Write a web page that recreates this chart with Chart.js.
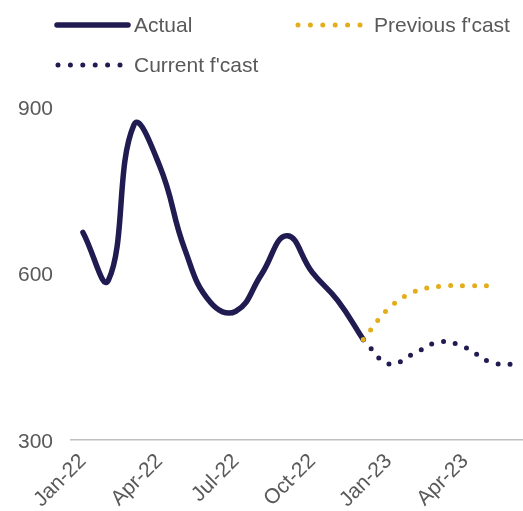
<!DOCTYPE html>
<html>
<head>
<meta charset="utf-8">
<script src="https://cdn.jsdelivr.net/npm/chart.js@4/dist/chart.umd.min.js"></script>
<style>
  html, body { margin: 0; padding: 0; background: #ffffff; }
  #chart { display: block; }
</style>
</head>
<body>
<canvas id="chart" width="523" height="511"></canvas>
<script>
// Monthly categories along the x axis
const months = ['Jan-22','Feb-22','Mar-22','Apr-22','May-22','Jun-22','Jul-22','Aug-22','Sep-22','Oct-22','Nov-22','Dec-22',
                'Jan-23','Feb-23','Mar-23','Apr-23','May-23','Jun-23'];
// Months that carry an axis label
const labelledMonths = ['Jan-22','Apr-22','Jul-22','Oct-22','Jan-23','Apr-23'];
// Value axis ticks
const yTicks = [300, 600, 900];

// Series values
const actual = [674, 588, 868, 795, 643, 548, 532, 598, 668, 602, 551, 481];          // Jan-22 .. Dec-22
const forecastStart = 'Dec-22';
const previousForecast = [481, 537, 567, 577, 578, 578];                                // Dec-22 .. May-23
const currentForecast = [481, 437, 456, 477, 467, 440, 436];                            // Dec-22 .. Jun-23

const NAVY = '#201b50';
const GOLD = '#e3ad1c';
const TEXT = '#595959';
const FONT_FAMILY = '"Liberation Sans", Arial, Helvetica, sans-serif';

const startIdx = months.indexOf(forecastStart);
const toPoints = (vals, offset) => vals.map((v, i) => ({ x: offset + i, y: v }));

// Two-column legend drawn above the plot
const legendRows = [
  { label: 'Actual', color: NAVY, dotted: false, x0: 57, x1: 128, tx: 134, y: 25 },
  { label: 'Previous f\'cast', color: GOLD, dotted: true, x0: 298, x1: 361, tx: 374, y: 25 },
  { label: 'Current f\'cast', color: NAVY, dotted: true, x0: 58, x1: 121, tx: 134, y: 65 }
];

const legendPlugin = {
  id: 'twoColumnLegend',
  afterDraw(chart) {
    const ctx = chart.ctx;
    ctx.save();
    legendRows.forEach(item => {
      ctx.beginPath();
      ctx.strokeStyle = item.color;
      ctx.lineCap = 'round';
      if (item.dotted) {
        ctx.lineWidth = 5;
        ctx.setLineDash([0, 12.4]);
      } else {
        ctx.lineWidth = 5.5;
        ctx.setLineDash([]);
      }
      ctx.moveTo(item.x0, item.y);
      ctx.lineTo(item.x1, item.y);
      ctx.stroke();
      ctx.setLineDash([]);
      ctx.fillStyle = TEXT;
      ctx.font = '21px ' + FONT_FAMILY;
      ctx.textBaseline = 'middle';
      ctx.textAlign = 'left';
      ctx.fillText(item.label, item.tx, item.y + 1);
    });
    ctx.restore();
  }
};

new Chart(document.getElementById('chart'), {
  type: 'line',
  data: {
    datasets: [
      {
        label: 'Previous f\'cast',
        data: toPoints(previousForecast, startIdx),
        borderColor: GOLD,
        borderWidth: 5,
        borderDash: [0, 12],
        borderCapStyle: 'round',
        tension: 0.4,
        pointRadius: 0,
        fill: false,
        order: 0
      },
      {
        label: 'Actual',
        data: toPoints(actual, 0),
        borderColor: NAVY,
        borderWidth: 5.5,
        borderCapStyle: 'round',
        borderJoinStyle: 'round',
        tension: 0.45,
        pointRadius: 0,
        fill: false,
        order: 1
      },
      {
        label: 'Current f\'cast',
        data: toPoints(currentForecast, startIdx),
        borderColor: NAVY,
        borderWidth: 5,
        borderDash: [0, 12],
        borderCapStyle: 'round',
        tension: 0.4,
        pointRadius: 0,
        fill: false,
        order: 2
      }
    ]
  },
  options: {
    responsive: false,
    animation: false,
    devicePixelRatio: 1,
    layout: { padding: { top: 107, left: 0, right: 0, bottom: 0 } },
    plugins: {
      legend: { display: false },
      tooltip: { enabled: false }
    },
    scales: {
      x: {
        type: 'linear',
        min: -0.47,
        max: 17.27,
        afterFit(scale) { scale.height = 71; },
        afterBuildTicks(scale) {
          scale.ticks = labelledMonths.map(m => ({ value: months.indexOf(m) }));
        },
        grid: { display: false, drawTicks: false },
        border: { display: true, color: '#c0c0c0', width: 1.5 },
        ticks: {
          autoSkip: false,
          minRotation: 45,
          maxRotation: 45,
          padding: 9,
          color: TEXT,
          font: { family: FONT_FAMILY, size: 21 },
          callback: (v) => months[v]
        }
      },
      y: {
        min: yTicks[0],
        max: yTicks[yTicks.length - 1],
        afterFit(scale) { scale.width = 71; },
        afterBuildTicks(scale) {
          scale.ticks = yTicks.map(v => ({ value: v }));
        },
        grid: { display: false, drawTicks: false },
        border: { display: false },
        ticks: {
          padding: 18,
          labelOffset: 2,
          color: TEXT,
          font: { family: FONT_FAMILY, size: 21 }
        }
      }
    }
  },
  plugins: [legendPlugin]
});
</script>
</body>
</html>
